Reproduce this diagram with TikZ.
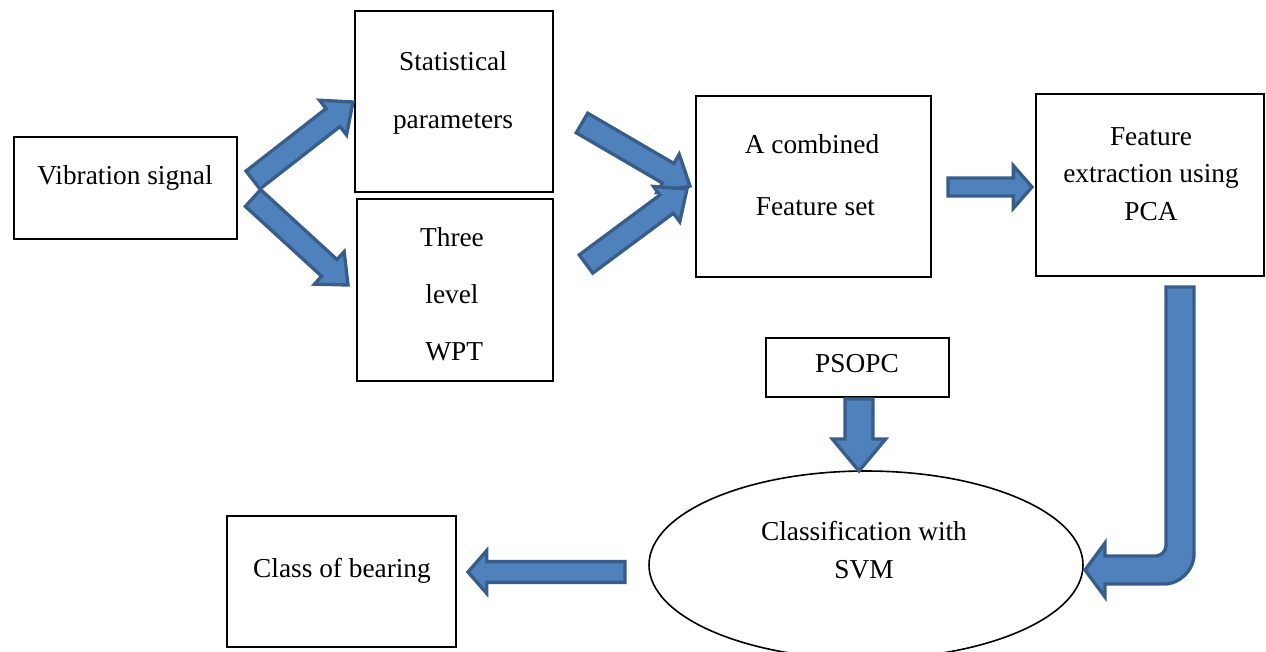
\documentclass[tikz,border=0pt]{standalone}
\usepackage{fontspec}
\setmainfont{Liberation Serif}
\usetikzlibrary{calc,shapes.geometric}
\definecolor{afill}{HTML}{4F81BD}
\definecolor{aline}{HTML}{385D8A}
\newcommand\blockarrow[5]{% from, to, half shaft, half head, head length
  \coordinate (ba-c) at ($(#2)!#5!(#1)$);
  \draw[barrow] ($(#1)!#3!90:(#2)$) -- ($(ba-c)!#3!-90:(#1)$) -- ($(ba-c)!#4!-90:(#1)$)
     -- (#2) -- ($(ba-c)!#4!90:(#1)$) -- ($(ba-c)!#3!90:(#1)$) -- ($(#1)!#3!-90:(#2)$) -- cycle;}
\begin{document}
\begin{tikzpicture}[x=0.75pt,y=-0.75pt,
  box/.style={draw=black, line width=1.5pt},
  barrow/.style={draw=aline, fill=afill, line width=2.5pt, line join=miter},
  txt/.style={font=\fontsize{20.5}{28}\selectfont, align=center, inner sep=0pt}]
\useasboundingbox (0,0) rectangle (1266,651);
% boxes
\draw[box] (14,137) rectangle (237,239);
\node[txt] (vib) at (125,178) {Vibration signal};
\draw[box] (355,11) rectangle (553,192);
\node[txt, font=\fontsize{20.5}{43.5}\selectfont] (stat) at (453,93) {Statistical\\ parameters};
\draw[box] (357,199) rectangle (553,381);
\node[txt, font=\fontsize{20.5}{42.8}\selectfont] (wpt) at (452,294) {Three\\ level\\ \,WPT};
\draw[box] (696,96) rectangle (931,277);
\node[txt, font=\fontsize{20.5}{47}\selectfont] (comb) at (812,175) {A combined\\[0pt] \ Feature set};
\draw[box] (1036,94) rectangle (1264,276);
\node[txt] (pca) at (1151,174) {Feature\\ extraction using\\ PCA};
\draw[box] (766,338) rectangle (949,397);
\node[txt] (pso) at (857,364) {PSOPC};
\node[draw=black, line width=1.2pt, ellipse, minimum width=325.5pt, minimum height=141pt, inner sep=0pt] (svm) at (866,565) {};
\node[txt] (svmt) at (864,550) {Classification with\\ SVM};
\draw[box] (227,516) rectangle (456,647);
\node[txt] (cls) at (342,571) {Class of bearing};
% arrow end points
\coordinate (a1s) at (253,180); \coordinate (a1e) at (353,102);
\coordinate (a2s) at (253,198); \coordinate (a2e) at (348,285);
\coordinate (a3s) at (582,123); \coordinate (a3e) at (690,186);
\coordinate (a4s) at (586,264); \coordinate (a4e) at (687,189);
\coordinate (a5s) at (948,187); \coordinate (a5e) at (1032,187);
\coordinate (a6s) at (859,399); \coordinate (a6e) at (859,471);
\coordinate (a8s) at (625,572); \coordinate (a8e) at (468,572);
\blockarrow{a1s}{a1e}{8.5pt}{16.5pt}{19pt}
\blockarrow{a2s}{a2e}{8.5pt}{16.5pt}{19pt}
\blockarrow{a3s}{a3e}{8.5pt}{16.5pt}{19pt}
\blockarrow{a4s}{a4e}{8.5pt}{16.5pt}{19pt}
\blockarrow{a5s}{a5e}{6.8pt}{16pt}{14pt}
\blockarrow{a6s}{a6e}{10.5pt}{20pt}{24pt}
\blockarrow{a8s}{a8e}{7.8pt}{16pt}{14pt}
% bent arrow from PCA to SVM
\draw[barrow] (1166,287) -- (1194,287) -- (1194,554) .. controls (1194,570) and (1180,584) .. (1164,584)
  -- (1105,584) -- (1105,597) -- (1085,570) -- (1105,543) -- (1105,556) -- (1156,556)
  .. controls (1161,556) and (1166,551) .. (1166,546) -- cycle;
\end{tikzpicture}
\end{document}
